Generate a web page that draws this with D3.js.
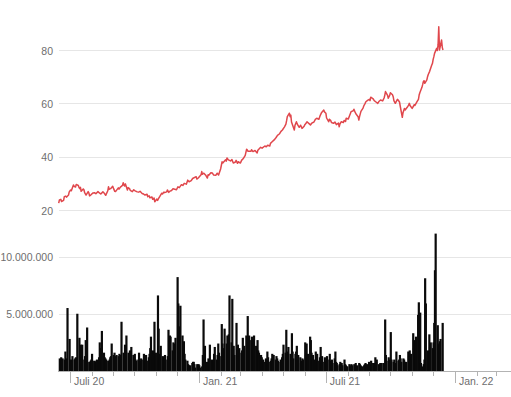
<!DOCTYPE html>
<html><head><meta charset="utf-8">
<script src="https://cdn.jsdelivr.net/npm/d3@7"></script>
<style>
html,body{margin:0;padding:0;background:#fff;}
svg{display:block;font-family:"Liberation Sans",Arial,sans-serif;}
</style></head><body>
<svg id="chart" width="511" height="397"></svg>
<script>
const priceDates = [
"2020-06-15","2020-06-16","2020-06-18","2020-06-19","2020-06-22","2020-06-23","2020-06-25","2020-06-26","2020-06-29","2020-06-30",
"2020-07-02","2020-07-03","2020-07-06","2020-07-07","2020-07-09","2020-07-10","2020-07-13","2020-07-14","2020-07-15","2020-07-16",
"2020-07-17","2020-07-20","2020-07-21","2020-07-22","2020-07-24","2020-07-27","2020-07-28","2020-07-29","2020-07-31","2020-08-03",
"2020-08-05","2020-08-07","2020-08-10","2020-08-12","2020-08-14","2020-08-17","2020-08-18","2020-08-20","2020-08-21","2020-08-24",
"2020-08-25","2020-08-26","2020-08-28","2020-08-31","2020-09-01","2020-09-03","2020-09-04","2020-09-08","2020-09-09","2020-09-11",
"2020-09-14","2020-09-15","2020-09-16","2020-09-17","2020-09-18","2020-09-21","2020-09-22","2020-09-24","2020-09-25","2020-09-28",
"2020-09-30","2020-10-02","2020-10-05","2020-10-07","2020-10-09","2020-10-12","2020-10-14","2020-10-16","2020-10-19","2020-10-20",
"2020-10-22","2020-10-23","2020-10-26","2020-10-27","2020-10-29","2020-10-30","2020-11-02","2020-11-03","2020-11-05","2020-11-06",
"2020-11-09","2020-11-10","2020-11-12","2020-11-13","2020-11-16","2020-11-17","2020-11-19","2020-11-20","2020-11-23","2020-11-25",
"2020-11-30","2020-12-02","2020-12-04","2020-12-07","2020-12-09","2020-12-11","2020-12-14","2020-12-16","2020-12-18","2020-12-21",
"2020-12-23","2020-12-28","2020-12-29","2020-12-31","2021-01-04","2021-01-05","2021-01-06","2021-01-08","2021-01-11","2021-01-13",
"2021-01-14","2021-01-15","2021-01-18","2021-01-20","2021-01-22","2021-01-25","2021-01-27","2021-01-29","2021-02-01","2021-02-03",
"2021-02-04","2021-02-08","2021-02-09","2021-02-10","2021-02-12","2021-02-15","2021-02-17","2021-02-19","2021-02-22","2021-02-23",
"2021-02-25","2021-02-26","2021-03-01","2021-03-03","2021-03-05","2021-03-08","2021-03-10","2021-03-11","2021-03-12","2021-03-16",
"2021-03-17","2021-03-19","2021-03-22","2021-03-25","2021-03-26","2021-03-30","2021-04-01","2021-04-05","2021-04-07","2021-04-09",
"2021-04-12","2021-04-13","2021-04-15","2021-04-19","2021-04-21","2021-04-23","2021-04-26","2021-04-28","2021-04-30","2021-05-03",
"2021-05-05","2021-05-06","2021-05-07","2021-05-10","2021-05-11","2021-05-12","2021-05-13","2021-05-17","2021-05-18","2021-05-20",
"2021-05-21","2021-05-24","2021-05-26","2021-05-28","2021-05-31","2021-06-01","2021-06-03","2021-06-04","2021-06-07","2021-06-09",
"2021-06-11","2021-06-14","2021-06-16","2021-06-18","2021-06-21","2021-06-23","2021-06-25","2021-06-28","2021-06-29","2021-07-01",
"2021-07-02","2021-07-05","2021-07-06","2021-07-08","2021-07-09","2021-07-12","2021-07-14","2021-07-16","2021-07-19","2021-07-20",
"2021-07-21","2021-07-23","2021-07-26","2021-07-27","2021-07-29","2021-07-30","2021-08-02","2021-08-04","2021-08-05","2021-08-06",
"2021-08-09","2021-08-10","2021-08-12","2021-08-13","2021-08-16","2021-08-17","2021-08-18","2021-08-20","2021-08-23","2021-08-24",
"2021-08-26","2021-08-27","2021-08-30","2021-09-01","2021-09-02","2021-09-03","2021-09-06","2021-09-08","2021-09-10","2021-09-13",
"2021-09-15","2021-09-17","2021-09-20","2021-09-22","2021-09-23","2021-09-24","2021-09-27","2021-09-28","2021-09-30","2021-10-01",
"2021-10-04","2021-10-05","2021-10-06","2021-10-08","2021-10-11","2021-10-12","2021-10-14","2021-10-15","2021-10-18","2021-10-19",
"2021-10-21","2021-10-22","2021-10-25","2021-10-27","2021-10-28","2021-10-29","2021-11-01","2021-11-03","2021-11-04","2021-11-05",
"2021-11-08","2021-11-10","2021-11-11","2021-11-12","2021-11-15","2021-11-16","2021-11-17","2021-11-18","2021-11-19","2021-11-22",
"2021-11-23","2021-11-24","2021-11-26","2021-11-29","2021-11-30","2021-12-01","2021-12-02","2021-12-03","2021-12-06","2021-12-07",
"2021-12-08","2021-12-09","2021-12-10","2021-12-13","2021-12-14","2021-12-15"];
const priceValues = [
22.6,23.8,24.0,23.2,23.6,25.0,25.2,24.8,25.6,26.8,
27.5,27.2,29.4,28.9,28.6,29.6,29.2,28.4,28.0,28.5,
27.0,27.9,27.6,26.5,25.6,26.9,26.4,25.3,25.7,26.4,
26.5,26.1,26.9,26.4,26.0,26.8,26.6,25.9,25.5,27.2,
28.7,27.8,28.0,28.9,28.2,27.0,26.9,28.3,27.8,28.6,
29.2,30.2,29.4,29.0,29.8,27.5,28.4,28.0,27.4,26.9,
27.6,27.2,26.8,26.7,27.0,26.2,26.0,25.6,25.9,25.0,
25.3,24.6,24.9,24.0,24.5,23.1,24.1,23.6,24.6,25.0,
26.3,26.0,26.7,26.5,26.8,27.5,26.6,27.0,27.3,28.0,
27.6,28.7,28.4,29.5,29.2,30.0,29.7,31.2,30.6,31.0,
31.8,32.5,31.6,32.0,33.2,34.4,33.4,33.8,32.9,32.0,
33.2,33.0,34.0,33.9,33.1,33.0,33.8,33.1,35.5,38.1,
37.6,38.8,38.3,39.5,38.8,38.4,38.9,37.6,38.0,38.6,
37.5,38.1,37.6,38.7,39.2,40.5,42.8,42.5,42.0,42.0,
42.6,41.9,42.3,41.4,42.4,43.5,43.2,44.0,43.7,44.3,
44.0,45.0,45.5,46.5,47.2,48.0,48.6,49.5,50.0,51.2,
52.2,53.5,55.0,56.3,55.0,55.6,53.0,50.0,51.8,53.1,
52.3,51.0,51.8,50.6,51.4,52.0,52.6,53.1,52.4,51.9,
52.6,53.0,54.0,54.4,54.0,55.5,56.6,57.5,56.8,56.3,
54.5,53.1,54.0,53.5,52.8,52.5,53.0,52.0,52.6,51.2,
52.2,53.1,52.8,53.6,53.2,54.4,54.1,55.5,56.2,56.9,
57.2,57.8,56.5,56.0,55.0,53.75,55.0,57.0,58.2,59.0,
60.0,60.6,61.2,61.5,61.0,62.3,61.8,61.0,60.6,60.0,
60.8,61.25,60.9,62.0,63.0,64.4,63.0,61.9,63.0,64.0,
63.2,62.5,61.0,60.0,61.5,61.25,60.5,59.0,54.75,56.5,
58.1,57.5,58.5,59.3,60.0,59.2,58.1,59.0,59.5,59.2,
60.6,61.5,63.1,64.0,66.0,67.0,68.1,68.5,67.5,68.8,
70.0,70.8,72.0,74.4,75.0,76.5,77.5,78.75,80.6,79.8,
82.0,88.75,80.0,83.75,81.0,80.0];

// daily trading volume in millions, one value per trading day from 2020-06-15
const volumeValues = [
1.1,1.0,1.2,0.9,1.1,1.0,1.7,0.9,1.1,5.5,
2.8,0.9,1.0,0.8,1.3,1.0,1.1,1.2,1.0,5.0,
2.9,1.4,2.3,1.2,2.3,1.0,1.3,2.7,1.1,3.8,
0.8,0.7,0.9,1.0,1.5,0.9,0.7,0.8,0.9,1.0,
1.2,2.5,1.0,2.0,3.5,1.6,1.2,1.1,1.0,0.9,
0.9,1.0,1.2,1.3,2.4,1.4,1.6,1.2,1.3,1.4,
1.3,1.5,1.2,1.4,4.3,1.6,1.4,2.3,1.5,3.1,
1.6,1.3,1.8,1.2,2.1,1.4,1.2,1.5,1.0,0.9,
1.0,1.6,0.8,0.9,1.1,1.0,1.5,0.8,0.9,1.4,
0.9,1.2,1.5,2.0,3.0,1.8,1.5,4.3,1.4,1.6,
6.6,3.7,1.5,1.2,2.2,1.3,1.1,1.2,1.4,1.0,
1.3,3.6,2.0,3.1,3.0,1.8,2.5,1.6,2.4,2.9,
8.2,5.9,3.4,3.9,5.7,3.1,2.0,2.6,1.5,1.0,
0.9,0.6,0.5,0.4,0.5,0.7,0.8,0.8,0.6,0.3,
0.6,0.5,0.6,0.5,0.3,0.4,1.4,4.5,1.0,2.2,
0.8,0.7,1.1,0.9,2.3,1.0,0.8,0.9,1.5,2.1,
1.0,1.4,2.4,1.6,1.3,4.1,2.4,1.6,2.0,3.7,
2.4,3.1,2.2,3.2,6.6,2.5,6.3,1.9,2.2,1.4,
4.2,1.5,2.3,1.3,2.0,1.6,1.8,2.9,2.0,2.2,
3.1,2.0,4.8,2.5,3.1,2.7,3.0,2.4,1.8,3.1,
2.2,2.0,2.7,1.8,1.6,1.4,1.2,0.8,1.0,0.8,
1.1,0.9,1.7,1.2,0.8,0.9,1.1,1.5,1.0,1.4,
1.0,1.3,1.1,0.9,0.8,1.0,0.9,1.2,1.5,2.3,
1.6,3.6,1.7,1.4,2.1,1.5,1.3,3.3,1.7,1.1,
1.5,1.7,2.2,1.0,1.4,1.2,0.7,0.9,1.1,1.0,
2.5,1.4,2.4,1.2,1.5,3.0,2.7,1.6,1.3,1.4,
1.0,1.7,1.3,1.5,0.9,1.2,2.1,1.0,1.3,0.8,
1.2,0.9,0.8,1.3,1.0,1.5,0.9,0.8,1.0,0.7,
1.1,1.7,0.8,0.7,0.5,0.6,0.8,0.6,0.7,0.5,
1.0,0.6,0.5,0.4,0.4,0.6,0.4,0.5,0.6,0.5,
0.6,0.5,0.7,0.4,0.5,0.7,0.6,0.5,0.4,0.4,
0.5,0.6,0.7,0.4,0.6,0.8,0.6,0.5,0.9,0.7,
0.7,0.6,1.2,0.8,1.0,0.6,0.5,0.7,0.6,0.7,
0.7,0.6,4.5,1.4,0.9,1.2,0.8,1.0,3.4,1.0,
0.8,1.0,0.7,0.6,1.7,0.9,1.0,1.4,1.1,0.8,
1.1,1.0,0.8,0.7,0.8,1.7,1.3,1.8,1.2,1.5,
3.3,2.0,2.7,2.4,3.0,4.9,6.0,3.5,5.1,0.7,
0.4,0.6,1.0,8.1,5.9,1.8,1.2,3.2,2.1,2.5,
2.0,2.5,4.2,8.8,12.0,4.0,2.3,2.4,2.6,2.8,
4.2];
const volumeStart = "2020-06-15";

const priceTicks = [20, 40, 60, 80];
const volumeTicks = [5, 10];
const volumeTickLabels = ["5.000.000", "10.000.000"];
const xMajorDates = ["2020-07-01", "2021-01-01", "2021-07-01", "2022-01-01"];
const xMajorLabels = ["Juli 20", "Jan. 21", "Juli 21", "Jan. 22"];
const xDomain = ["2020-06-14", "2022-03-22"];

const parse = d3.utcParse("%Y-%m-%d");
const svg = d3.select("#chart");
const plotLeft = 58, plotRight = 511;

const x = d3.scaleUtc().domain(xDomain.map(parse)).range([plotLeft, plotRight]);
const yP = d3.scaleLinear().domain([20, 80]).range([210, 50]);
const yV = d3.scaleLinear().domain([0, 10]).range([371, 256.5]);

const gridColor = "#e6e6e6", labelColor = "#6e6e6e", axisColor = "#b3b3b3";

// price grid + labels
const pg = svg.append("g");
pg.selectAll("line").data(priceTicks).join("line")
  .attr("x1", plotLeft + 1).attr("x2", plotRight)
  .attr("y1", d => Math.round(yP(d)) + 0.5).attr("y2", d => Math.round(yP(d)) + 0.5)
  .attr("stroke", gridColor).attr("stroke-width", 1);
pg.selectAll("text").data(priceTicks).join("text")
  .attr("x", 53).attr("y", d => yP(d) + 4.5)
  .attr("text-anchor", "end").attr("fill", labelColor).attr("font-size", "10.5px")
  .text(d => d);

// volume grid + labels
const vg = svg.append("g");
vg.selectAll("line").data(volumeTicks).join("line")
  .attr("x1", plotLeft + 1).attr("x2", plotRight)
  .attr("y1", d => Math.round(yV(d)) + 0.5).attr("y2", d => Math.round(yV(d)) + 0.5)
  .attr("stroke", gridColor).attr("stroke-width", 1);
vg.selectAll("text").data(volumeTicks).join("text")
  .attr("x", 53).attr("y", d => yV(d) + 4.5)
  .attr("text-anchor", "end").attr("fill", labelColor).attr("font-size", "10.5px")
  .text((d, i) => volumeTickLabels[i]);

// price line
const priceData = priceDates.map((d, i) => ({ date: parse(d), v: priceValues[i] }));
svg.append("path").datum(priceData)
  .attr("fill", "none").attr("stroke", "#e0474c").attr("stroke-width", 1.5)
  .attr("stroke-linejoin", "round")
  .attr("d", d3.line().x(d => x(d.date)).y(d => yP(d.v)));

// volume bars on trading days
const tradingDays = d3.utcDay.range(parse(volumeStart), parse("2022-06-01"))
  .filter(d => d.getUTCDay() !== 0 && d.getUTCDay() !== 6)
  .slice(0, volumeValues.length);
const volData = volumeValues.map((v, i) => ({ date: tradingDays[i], v }));
svg.append("g").selectAll("rect").data(volData).join("rect")
  .attr("x", d => x(d.date)).attr("width", 2.2)
  .attr("y", d => yV(d.v)).attr("height", d => yV(0) - yV(d.v))
  .attr("fill", "#0a0a0a");

// x axis
const ax = svg.append("g");
ax.append("line").attr("x1", plotLeft).attr("x2", plotRight)
  .attr("y1", 371.5).attr("y2", 371.5).attr("stroke", axisColor);
const months = d3.utcMonth.range(parse(xDomain[0]), parse(xDomain[1]));
const majorSet = new Set(xMajorDates);
const fmt = d3.utcFormat("%Y-%m-%d");
ax.selectAll("line.minor").data(months.filter(m => !majorSet.has(fmt(m)))).join("line")
  .attr("class", "minor")
  .attr("x1", d => Math.round(x(d)) + 0.5).attr("x2", d => Math.round(x(d)) + 0.5)
  .attr("y1", 372).attr("y2", 376).attr("stroke", axisColor);
const majors = xMajorDates.map(parse);
ax.selectAll("line.major").data(majors).join("line")
  .attr("class", "major")
  .attr("x1", d => Math.round(x(d)) + 0.5).attr("x2", d => Math.round(x(d)) + 0.5)
  .attr("y1", 372).attr("y2", 383).attr("stroke", axisColor);
ax.selectAll("text").data(majors).join("text")
  .attr("x", d => x(d) + 4).attr("y", 385)
  .attr("fill", labelColor).attr("font-size", "10.5px")
  .text((d, i) => xMajorLabels[i]);
</script>
</body></html>
